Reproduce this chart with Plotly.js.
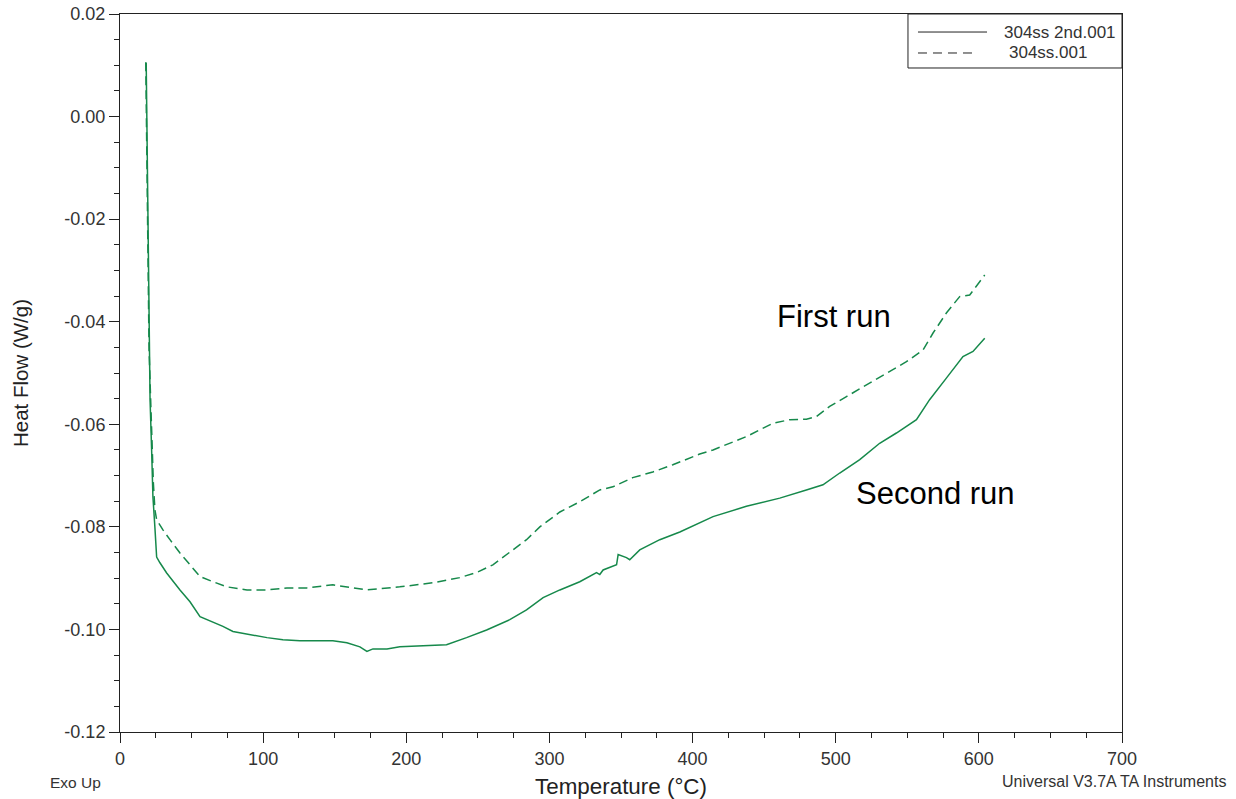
<!DOCTYPE html>
<html>
<head>
<meta charset="utf-8">
<script src="https://cdn.plot.ly/plotly-3.0.1.min.js"></script>
<style>html,body{margin:0;padding:0;background:#fff;}#chart{width:1236px;height:799px;}</style>
</head>
<body>
<div id="chart"></div>
<script>
// Second run (304ss 2nd.001) - solid
var secondT = [18.3, 19.9, 21.0, 22.1, 23.0, 24.4, 25.6, 27.9, 32.6, 41.9, 48.9, 55.9, 64.9, 71.9, 78.9, 90.8, 102.7, 113.8, 125.7, 148.7, 158.5, 167.6, 172.5, 176.7, 186.5, 195.5, 228.1, 242.1, 256.1, 272.3, 284.0, 295.6, 307.3, 321.2, 332.9, 335.2, 337.5, 346.9, 348.0, 353.8, 356.1, 363.1, 377.1, 391.1, 405.0, 414.3, 437.6, 460.9, 479.5, 491.1, 502.8, 516.8, 530.7, 542.4, 556.4, 565.6, 577.3, 588.9, 595.9, 604.1];
var secondHF = [0.0105, -0.0357, -0.0552, -0.0650, -0.0741, -0.0802, -0.0859, -0.0870, -0.0890, -0.0923, -0.0946, -0.0975, -0.0985, -0.0994, -0.1004, -0.1010, -0.1016, -0.1020, -0.1022, -0.1022, -0.1026, -0.1034, -0.1043, -0.1038, -0.1038, -0.1034, -0.1030, -0.1016, -0.1001, -0.0981, -0.0962, -0.0938, -0.0923, -0.0907, -0.0889, -0.0893, -0.0884, -0.0874, -0.0854, -0.0860, -0.0864, -0.0845, -0.0825, -0.0810, -0.0792, -0.0780, -0.0760, -0.0744, -0.0728, -0.0718, -0.0695, -0.0669, -0.0637, -0.0617, -0.0591, -0.0552, -0.0510, -0.0468, -0.0458, -0.0432];

// First run (304ss.001) - dashed
var firstT = [18.0, 18.9, 20.3, 23.3, 24.4, 25.6, 30.0, 34.9, 41.9, 48.9, 55.9, 64.9, 74.7, 88.7, 102.7, 116.6, 130.6, 148.7, 162.7, 172.5, 195.5, 218.6, 237.4, 249.1, 260.5, 272.3, 284.0, 293.3, 307.3, 321.2, 335.2, 344.3, 358.2, 372.2, 386.2, 405.0, 414.3, 437.6, 456.2, 467.9, 479.5, 486.5, 495.8, 507.5, 521.4, 535.4, 549.4, 561.0, 568.0, 577.3, 586.6, 593.6, 604.1];
var firstHF = [0.0106, -0.0163, -0.0455, -0.0714, -0.0767, -0.0786, -0.0806, -0.0825, -0.0851, -0.0874, -0.0897, -0.0907, -0.0917, -0.0923, -0.0923, -0.0919, -0.0919, -0.0913, -0.0919, -0.0923, -0.0917, -0.0909, -0.0899, -0.0889, -0.0874, -0.0850, -0.0825, -0.0800, -0.0771, -0.0751, -0.0728, -0.0722, -0.0704, -0.0693, -0.0679, -0.0658, -0.0650, -0.0624, -0.0598, -0.0591, -0.0590, -0.0585, -0.0565, -0.0546, -0.0523, -0.0500, -0.0478, -0.0455, -0.0422, -0.0383, -0.0351, -0.0348, -0.0309];

var seriesNames = ['304ss 2nd.001', '304ss.001'];
var xTickVals = [0, 100, 200, 300, 400, 500, 600, 700];
var yTickVals = [0.02, 0.00, -0.02, -0.04, -0.06, -0.08, -0.10, -0.12];
var yTickText = ['0.02', '0.00', '-0.02', '-0.04', '-0.06', '-0.08', '-0.10', '-0.12'];

var green = '#16894b';
var traces = [
  {x: secondT, y: secondHF, name: seriesNames[0], mode: 'lines', line: {color: green, width: 1.5, dash: 'solid'}},
  {x: firstT, y: firstHF, name: seriesNames[1], mode: 'lines', line: {color: green, width: 1.5, dash: '9px,5px'}}
];

var fam = 'Liberation Sans, Arial, sans-serif';
var axisFont = {family: fam, size: 18, color: '#333'};
var layout = {
  width: 1236, height: 799,
  margin: {l: 120, r: 114, t: 14, b: 67},
  paper_bgcolor: '#fff', plot_bgcolor: '#fff',
  showlegend: false,
  font: {family: fam, color: '#222'},
  xaxis: {
    range: [0, 700], tickvals: xTickVals, ticks: 'outside', ticklen: 10, tickwidth: 1, tickcolor: '#222',
    showline: true, linecolor: '#222', linewidth: 1, mirror: true, showgrid: false, zeroline: false,
    tickfont: axisFont,
    minor: {dtick: 25, ticks: 'outside', ticklen: 5, tickcolor: '#222', showgrid: false},
    title: {text: 'Temperature (°C)', font: {family: fam, size: 22.4, color: '#222'}, standoff: 13}
  },
  yaxis: {
    range: [-0.12, 0.02], tickvals: yTickVals, ticktext: yTickText, ticks: 'outside', ticklen: 10, tickwidth: 1, tickcolor: '#222',
    showline: true, linecolor: '#222', linewidth: 1, mirror: true, showgrid: false, zeroline: false,
    tickfont: axisFont,
    minor: {dtick: 0.005, ticks: 'outside', ticklen: 5, tickcolor: '#222', showgrid: false},
    title: {text: 'Heat Flow (W/g)', font: {family: fam, size: 20.5, color: '#222'}, standoff: 30}
  },
  shapes: [
    {type: 'rect', xref: 'paper', yref: 'paper', x0: 0.7864, x1: 1, y0: 0.9248, y1: 1, line: {color: '#222', width: 1}},
    {type: 'line', xref: 'paper', yref: 'paper', x0: 0.7964, x1: 0.8653, y0: 0.9749, y1: 0.9749, line: {color: '#222', width: 1}},
    {type: 'line', xref: 'paper', yref: 'paper', x0: 0.7964, x1: 0.8503, y0: 0.9457, y1: 0.9457, line: {color: '#222', width: 1, dash: '9px,6px'}}
  ],
  annotations: [
    {xref: 'paper', yref: 'paper', x: 0.8802, y: 0.9749, xanchor: 'left', yanchor: 'middle', text: seriesNames[0], showarrow: false, font: {family: fam, size: 17, color: '#333'}},
    {xref: 'paper', yref: 'paper', x: 0.8852, y: 0.9457, xanchor: 'left', yanchor: 'middle', text: seriesNames[1], showarrow: false, font: {family: fam, size: 17, color: '#333'}},
    {xref: 'x', yref: 'y', x: 499, y: -0.0389, text: 'First run', showarrow: false, font: {family: fam, size: 31, color: '#000'}},
    {xref: 'x', yref: 'y', x: 569.8, y: -0.0734, text: 'Second run', showarrow: false, font: {family: fam, size: 31, color: '#000'}},
    {xref: 'paper', yref: 'paper', x: -0.0719, y: -0.071, xanchor: 'left', yanchor: 'middle', text: 'Exo Up', showarrow: false, font: {family: fam, size: 15.5, color: '#333'}},
    {xref: 'paper', yref: 'paper', x: 1.1058, y: -0.0696, xanchor: 'right', yanchor: 'middle', text: 'Universal V3.7A TA Instruments', showarrow: false, font: {family: fam, size: 16, color: '#333'}}
  ]
};

Plotly.newPlot('chart', traces, layout, {displayModeBar: false, staticPlot: true});
</script>
</body>
</html>
